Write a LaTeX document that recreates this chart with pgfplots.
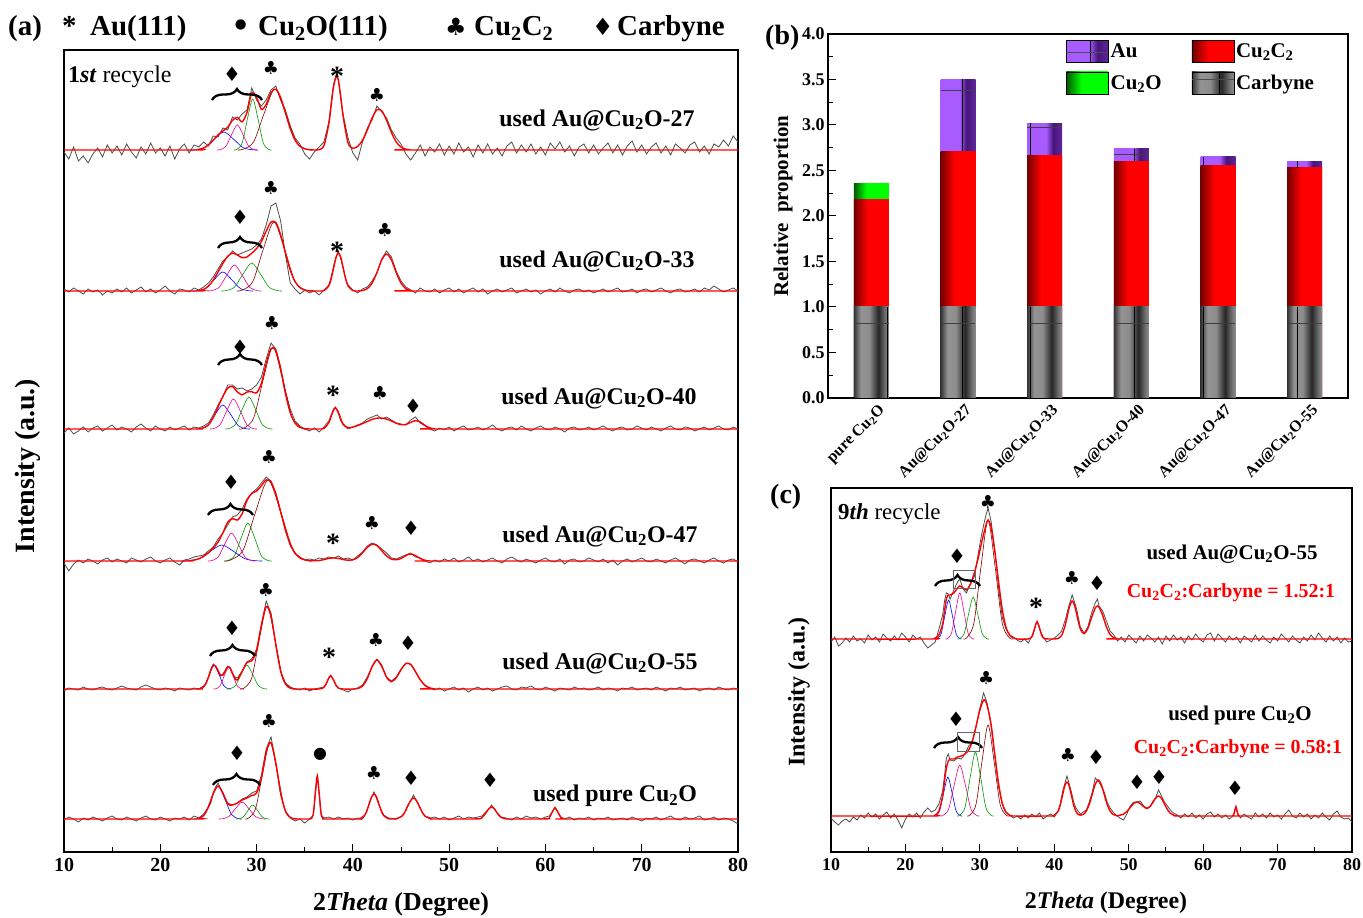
\documentclass[border=0pt]{standalone}
\usepackage{fontspec}
\setmainfont{Liberation Serif}
\newfontfamily\sym{DejaVu Sans}
\usepackage{pgfplots}
\pgfplotsset{compat=1.18}
\usetikzlibrary{decorations.pathreplacing}
\newcommand\fs[1]{\fontsize{#1}{#1}\selectfont}
\definecolor{auP}{rgb}{0.66,0.36,1.0}
\definecolor{auD}{rgb}{0.28,0.08,0.48}
\definecolor{dgray}{rgb}{0.3,0.3,0.3}
\pgfdeclarehorizontalshading{auS}{100bp}{color(0bp)=(auP); color(25bp)=(auP); color(52bp)=(auP); color(62bp)=(auD); color(75bp)=(auD!75!auP); color(100bp)=(auD!75!auP)}
\pgfdeclarehorizontalshading{ccS}{100bp}{color(0bp)=(red!45!black); color(25bp)=(red!45!black); color(45bp)=(red); color(100bp)=(red)}
\pgfdeclarehorizontalshading{coS}{100bp}{color(0bp)=(green!35!black); color(25bp)=(green!35!black); color(43bp)=(green); color(100bp)=(green)}
\pgfdeclarehorizontalshading{cbS}{100bp}{color(0bp)=(black!80); color(25bp)=(black!80); color(35bp)=(black!42); color(47bp)=(black!45); color(60bp)=(black!85); color(70bp)=(black!55); color(75bp)=(black!45); color(100bp)=(black!45)}
\pgfplotsset{
  xrd/.style={scale only axis, xmin=10, xmax=80, ymin=0,
    xtick={10,20,...,80}, minor xtick={15,25,...,75}, ytick=\empty,
    tick align=inside, xtick pos=left, major tick length=8bp, minor tick length=5bp,
    axis line style={line width=1.1bp}, every tick/.style={line width=1bp, black},
    /pgf/number format/assume math mode=true,
    xticklabel style={font=\fs{20}\bfseries, yshift=-3bp}},
  off/.style={y filter/.expression={y+#1}},
  gr/.style={draw=dgray, line width=0.8bp, sharp plot, no markers},
  fit/.style={red, line width=1.4bp, smooth, no markers},
  cB/.style={blue, line width=0.6bp, smooth, no markers},
  cM/.style={magenta, line width=0.6bp, smooth, no markers},
  cG/.style={green!60!black, line width=0.6bp, smooth, no markers},
  cR/.style={red!50!black, line width=0.6bp, smooth, no markers},
  bb/.style={ybar, bar width=35bp, bar shift=0pt, draw=none, shade, shading=#1, forget plot},
}
\tikzset{
  D/.style={font=\sym\fs{20}, inner sep=0},
  C/.style={font=\sym\fs{18}, inner sep=0},
  A/.style={font=\bfseries\fs{28}, inner sep=0},
  O/.style={font=\sym\fs{16}, inner sep=0},
  br/.style={decorate, decoration={brace, amplitude=11bp}, line width=2.3bp},
  lab/.style={font=\bfseries\fs{24}, inner sep=0},
  vl/.style={black, line width=0.8bp},
  hl/.style={black!75, line width=0.5bp},
}
\begin{document}
\begin{tikzpicture}[x=1bp,y=1bp]
% ---------------- panel (a)
\pgfresetboundingbox
\begin{scope}[shift={(64,65)}]
\begin{axis}[xrd, at={(0,0)}, anchor=south west, width=674bp, height=802bp, ymax=802]
% T27
\addplot[gr, off=702] coordinates {(10,-2)(10.5,-9)(11,3)(11.5,-11)(12,-6)(12.5,-13)(13,-4)(13.5,2)(14,-7)(14.5,5)(15,-3)(15.5,4)(16,-5)(16.5,6)(17,-2)(17.5,-8)(18,3)(18.5,-4)(19,7)(19.5,-3)(20,2)(20.5,-6)(21,4)(21.5,-9)(22,1)(22.5,6)(23,-3)(23.5,5)(24,3)(24.5,8)(25,4)(25.5,14)(26,13)(26.5,22)(27,20)(27.5,33)(28,30)(28.5,36)(29,40)(29.5,62)(30,50)(30.5,44)(31,50)(31.5,60)(32,64)(32.5,50)(33,40)(33.5,24)(34,12)(34.5,6)(35,-4)(35.5,-9)(36,-2)(36.5,3)(37,8)(37.5,28)(37.75,48)(38,66)(38.3,76)(38.5,70)(38.75,50)(39,35)(39.5,12)(40,-3)(40.5,-10)(41,8)(41.5,22)(42,30)(42.5,44)(43,38)(43.5,32)(44,20)(44.5,12)(45,6)(45.5,-4)(46,-10)(46.5,-3)(47,5)(47.5,-6)(48,3)(48.5,-2)(49,6)(49.5,-5)(50,4)(50.5,-4)(51,7)(51.5,-2)(52,3)(52.5,-7)(53,5)(53.5,-3)(54,6)(54.5,-4)(55,2)(55.5,-6)(56,4)(56.5,8)(57,-3)(57.5,5)(58,-2)(58.5,6)(59,-4)(59.5,3)(60,-5)(60.5,7)(61,1)(61.5,8)(62,-2)(62.5,4)(63,-6)(63.5,3)(64,6)(64.5,-3)(65,5)(65.5,-4)(66,2)(66.5,7)(67,-3)(67.5,5)(68,-5)(68.5,4)(69,9)(69.5,-2)(70,5)(70.5,-4)(71,3)(71.5,7)(72,-3)(72.5,4)(73,-5)(73.5,6)(74,2)(74.5,-3)(75,5)(75.5,8)(76,-2)(76.5,4)(77,-4)(77.5,6)(78,3)(78.5,10)(79,4)(79.5,14)(80,8)};
\addplot[cB, off=702] coordinates {(23.1,0)(23.6,0.2)(24.6,2.4)(25.6,10.9)(26.6,18)(27.6,10.9)(28.6,2.4)(29.6,0.2)(30.1,0)};
\addplot[cM, off=702] coordinates {(25.9,0)(26.2,0.3)(26.8,3.4)(27.4,15.2)(28.0,25)(28.6,15.2)(29.2,3.4)(29.8,0.3)(30.1,0)};
\addplot[cG, off=702] coordinates {(27.68,0)(27.95,0.6)(28.5,6.9)(29.05,31)(29.6,51)(30.15,31)(30.7,6.9)(31.25,0.6)(31.53,0)};
\addplot[cR, off=702] coordinates {(28.05,0)(28.6,0.7)(29.7,8.2)(30.8,37)(31.9,61)(33.0,37)(34.1,8.2)(35.2,0.7)(35.75,0)};
\addplot[fit, off=702] coordinates {(10,0)(23.5,0)(24,0.6)(24.5,2)(25,5)(25.5,9.8)(26,15.1)(26.5,19)(27,22.8)(27.5,29.7)(28,32.6)(28.5,28.1)(29,37.3)(29.5,57)(30,52.9)(30.5,40.5)(31,45.6)(31.5,57.3)(32,60.8)(32.5,52.4)(33,37)(33.5,21.3)(34,9.8)(34.5,3.7)(35,1.2)(35.5,0.3)(36,0)(36.5,0.3)(37,4.5)(37.5,25.8)(37.75,44.9)(38,63.6)(38.3,74)(38.5,69.3)(38.75,52.9)(39,33)(39.5,7.1)(40,1.7)(40.5,3.6)(41,9.7)(41.5,20)(42,32.1)(42.5,40.2)(43,39.2)(43.5,29.8)(44,17.6)(44.5,8.1)(45,2.9)(45.5,0.8)(46,0.2)(46.5,0)(80,0)};
% T33
\addplot[gr, off=561] coordinates {(10,2)(10.5,-1)(11,3)(11.5,0)(12,-3)(12.5,2)(13,-1)(13.5,1)(14,-4)(14.5,0)(15,-2)(15.5,2)(16,-1)(16.5,3)(17,-2)(17.5,1)(18,4)(18.5,-1)(19,2)(19.5,-2)(20,1)(20.5,5)(21,0)(21.5,-3)(22,2)(22.5,1)(23,-1)(23.5,3)(24,1)(24.5,4)(25,8)(25.5,14)(26,22)(26.5,30)(27,34)(27.5,40)(28,36)(28.5,38)(29,40)(29.5,42)(30,46)(30.5,52)(31,66)(31.5,85)(32,88)(32.5,70)(33,36)(33.5,8)(34,2)(34.5,-3)(35,1)(35.5,-2)(36,0)(36.5,-4)(37,1)(37.5,6)(37.75,14)(38,25)(38.25,34)(38.5,40)(38.75,32)(39,22)(39.25,12)(39.5,6)(40,1)(40.5,-2)(41,2)(41.5,4)(42,10)(42.5,18)(43,32)(43.5,40)(44,34)(44.5,20)(45,10)(45.5,4)(46,1)(46.5,-2)(47,3)(47.5,0)(48,-1)(48.5,2)(49,-2)(49.5,1)(50,3)(50.5,-1)(51,2)(51.5,-2)(52,1)(52.5,3)(53,-1)(53.5,2)(54,-3)(54.5,0)(55,2)(55.5,-1)(56,1)(56.5,3)(57,-2)(57.5,0)(58,2)(58.5,-1)(59,1)(59.5,-3)(60,0)(60.5,2)(61,-1)(61.5,3)(62,0)(62.5,-2)(63,1)(63.5,2)(64,-1)(64.5,1)(65,-2)(65.5,0)(66,2)(66.5,-1)(67,1)(67.5,3)(68,-1)(68.5,0)(69,2)(69.5,-2)(70,1)(70.5,2)(71,-1)(71.5,1)(72,3)(72.5,0)(73,-2)(73.5,1)(74,2)(74.5,-1)(75,0)(75.5,2)(76,-1)(76.5,3)(77,1)(77.5,5)(78,2)(78.5,-1)(79,1)(79.5,3)(80,0)};
\addplot[cB, off=561] coordinates {(23.35,0)(23.8,0.2)(24.7,2.6)(25.6,11.5)(26.5,19)(27.4,11.5)(28.3,2.6)(29.2,0.2)(29.65,0)};
\addplot[cM, off=561] coordinates {(24.9,0)(25.3,0.3)(26.1,3.5)(26.9,15.8)(27.7,26)(28.5,15.8)(29.3,3.5)(30.1,0.3)(30.5,0)};
\addplot[cG, off=561] coordinates {(26.35,0)(26.8,0.3)(27.7,3.8)(28.6,17)(29.5,28)(30.4,17)(31.3,3.8)(32.2,0.3)(32.65,0)};
\addplot[cR, off=561] coordinates {(27.95,0)(28.5,0.8)(29.6,9.3)(30.7,41.9)(31.8,69)(32.9,41.9)(34.0,9.3)(35.1,0.8)(35.65,0)};
\addplot[fit, off=561] coordinates {(10,0)(23.5,0)(24,0.4)(24.5,1.6)(25,4.8)(25.5,10.9)(26,19)(26.5,27.5)(27,34.6)(27.5,37.9)(28,36)(28.5,33.3)(29,34.1)(29.5,37.8)(30,42.4)(30.5,49.5)(31,59.8)(31.5,68.9)(32,68.5)(32.5,56.2)(33,38.1)(33.5,20.8)(34,9.3)(34.5,3.4)(35,1)(35.5,0.2)(36,0)(36.5,0)(37,0.4)(37.5,5.1)(37.75,12.3)(38,23)(38.25,33.5)(38.5,38)(38.75,33.5)(39,23)(39.25,12.3)(39.5,5.1)(40,0.4)(40.5,0)(41,0.5)(41.5,2.3)(42,7.9)(42.5,18.4)(43,31.1)(43.5,37)(44,31.1)(44.5,18.4)(45,7.9)(45.5,2.3)(46,0.5)(46.5,0)(80,0)};
% T40
\addplot[gr, off=423] coordinates {(10,-4)(10.5,1)(11,-5)(11.5,-2)(12,2)(12.5,-3)(13,1)(13.5,3)(14,-2)(14.5,1)(15,4)(15.5,-1)(16,2)(16.5,0)(17,-3)(17.5,2)(18,5)(18.5,1)(19,-2)(19.5,3)(20,0)(20.5,-2)(21,2)(21.5,-1)(22,1)(22.5,3)(23,-1)(23.5,2)(24,1)(24.5,3)(25,6)(25.5,14)(26,24)(26.5,32)(27,44)(27.5,44)(28,40)(28.5,41)(29,38)(29.5,40)(30,44)(30.5,52)(31,70)(31.5,86)(32,80)(32.5,62)(33,38)(33.5,20)(34,8)(34.5,3)(35,0)(35.5,-2)(36,1)(36.5,-3)(37,2)(37.5,8)(37.75,14)(38,20)(38.2,22)(38.5,15)(38.75,8)(39,4)(39.5,0)(40,2)(40.5,4)(41,6)(41.5,10)(42,12)(42.5,14)(43,10)(43.5,12)(44,9)(44.5,6)(45,5)(45.5,4)(46,9)(46.5,12)(47,6)(47.5,3)(48,0)(48.5,-2)(49,1)(49.5,-1)(50,2)(50.5,-2)(51,1)(51.5,3)(52,-1)(52.5,0)(53,2)(53.5,-1)(54,1)(54.5,4)(55,0)(55.5,-2)(56,1)(56.5,2)(57,-1)(57.5,3)(58,0)(58.5,-2)(59,1)(59.5,3)(60,0)(60.5,-1)(61,2)(61.5,0)(62,-3)(62.5,1)(63,2)(63.5,-1)(64,0)(64.5,2)(65,-1)(65.5,1)(66,3)(66.5,0)(67,-2)(67.5,1)(68,2)(68.5,-1)(69,0)(69.5,3)(70,1)(70.5,-1)(71,2)(71.5,0)(72,-2)(72.5,1)(73,3)(73.5,0)(74,-1)(74.5,2)(75,1)(75.5,-2)(76,0)(76.5,2)(77,-1)(77.5,1)(78,3)(78.5,0)(79,-1)(79.5,2)(80,0)};
\addplot[cB, off=423] coordinates {(23.7,0)(24.1,0.3)(24.9,3.2)(25.7,14.6)(26.5,24)(27.3,14.6)(28.1,3.2)(28.9,0.3)(29.3,0)};
\addplot[cM, off=423] coordinates {(25.15,0)(25.5,0.3)(26.2,4.1)(26.9,18.2)(27.6,30)(28.3,18.2)(29.0,4.1)(29.7,0.3)(30.05,0)};
\addplot[cG, off=423] coordinates {(26.75,0)(27.1,0.4)(27.8,4.3)(28.5,19.4)(29.2,32)(29.9,19.4)(30.6,4.3)(31.3,0.4)(31.65,0)};
\addplot[cR, off=423] coordinates {(28.2,0)(28.7,0.9)(29.7,11.1)(30.7,49.8)(31.7,82)(32.7,49.8)(33.7,11.1)(34.7,0.9)(35.2,0)};
\addplot[fit, off=423] coordinates {(10,0)(23.5,0)(24,0.2)(24.5,1.1)(25,4.1)(25.5,11.3)(26,22)(26.5,32.7)(27,40.8)(27.5,42.4)(28,37.1)(28.5,34.1)(29,36.9)(29.5,37.3)(30,36.1)(30.5,45.6)(31,65.4)(31.5,80.4)(32,78.4)(32.5,59.5)(33,35.3)(33.5,16.2)(34,5.8)(34.5,1.6)(35,0.4)(35.5,0)(36.5,0)(37,0.6)(37.5,6.2)(37.75,12.7)(38,19)(38.2,21)(38.5,16.8)(38.75,10)(39,4.8)(39.5,1.3)(40,1.9)(40.5,3.4)(41,5.4)(41.5,7.5)(42,9.6)(42.5,10.8)(43,10.9)(43.5,9.9)(44,8)(44.5,5.8)(45,4.3)(45.5,4.5)(46,6.6)(46.5,8.4)(47,7)(47.5,3.5)(48,1.1)(48.5,0.2)(49,0)(80,0)};
% T47
\addplot[gr, off=291] coordinates {(10,-2)(10.5,-10)(11,-3)(11.5,1)(12,-2)(12.5,2)(13,0)(13.5,-3)(14,1)(14.5,3)(15,-1)(15.5,2)(16,0)(16.5,-2)(17,3)(17.5,1)(18,-1)(18.5,2)(19,4)(19.5,0)(20,-2)(20.5,1)(21,3)(21.5,-1)(22,-4)(22.5,1)(23,2)(23.5,4)(24,5)(24.5,6)(25,10)(25.5,14)(26,22)(26.5,28)(27,36)(27.5,44)(28,46)(28.5,52)(29,62)(29.5,68)(30,72)(30.5,78)(31,84)(31.5,80)(32,68)(32.5,50)(33,30)(33.5,15)(34,7)(34.5,3)(35,1)(35.5,2)(36,1)(36.5,3)(37,2)(37.5,4)(38,3)(38.5,5)(39,2)(39.5,3)(40,1)(40.5,5)(41,9)(41.5,15)(42,18)(42.5,16)(43,12)(43.5,8)(44,3)(44.5,2)(45,4)(45.5,6)(46,8)(46.5,4)(47,3)(47.5,0)(48,-2)(48.5,1)(49,-1)(49.5,2)(50,0)(50.5,3)(51,-1)(51.5,1)(52,4)(52.5,0)(53,2)(53.5,-1)(54,1)(54.5,3)(55,0)(55.5,-2)(56,2)(56.5,4)(57,1)(57.5,-1)(58,2)(58.5,0)(59,-2)(59.5,1)(60,3)(60.5,0)(61,-1)(61.5,2)(62,-3)(62.5,1)(63,2)(63.5,-1)(64,0)(64.5,3)(65,1)(65.5,-1)(66,2)(66.5,-2)(67,1)(67.5,-4)(68,0)(68.5,2)(69,-1)(69.5,1)(70,3)(70.5,0)(71,-1)(71.5,2)(72,0)(72.5,-2)(73,1)(73.5,3)(74,0)(74.5,-3)(75,1)(75.5,2)(76,0)(76.5,-2)(77,1)(77.5,3)(78,0)(78.5,-2)(79,1)(79.5,2)(80,-1)};
\addplot[cB, off=291] coordinates {(22.2,0)(22.8,0.2)(24.0,2.2)(25.2,9.7)(26.4,16)(27.6,9.7)(28.8,2.2)(30.0,0.2)(30.6,0)};
\addplot[cM, off=291] coordinates {(24.95,0)(25.3,0.3)(26.0,3.8)(26.7,17)(27.4,28)(28.1,17)(28.8,3.8)(29.5,0.3)(29.85,0)};
\addplot[cG, off=291] coordinates {(26.65,0)(27.0,0.4)(27.7,5.1)(28.4,23.1)(29.1,38)(29.8,23.1)(30.5,5.1)(31.2,0.4)(31.55,0)};
\addplot[cR, off=291] coordinates {(26.65,0)(27.3,0.9)(28.6,10.9)(29.9,49.2)(31.2,81)(32.5,49.2)(33.8,10.9)(35.1,0.9)(35.75,0)};
\addplot[fit, off=291] coordinates {(10,0)(22.5,0)(23,0.3)(23.5,0.9)(24,2.2)(24.5,4.6)(25,8.2)(25.5,12.8)(26,18.9)(26.5,28.1)(27,38.7)(27.5,42.4)(28,40.9)(28.5,47.2)(29,60.5)(29.5,67.5)(30,69.9)(30.5,75.2)(31,81.1)(31.5,78.9)(32,66.9)(32.5,49.1)(33,31.3)(33.5,16.9)(34,8)(34.5,3.2)(35,1.1)(35.5,0.3)(36,0.2)(36.5,0.5)(37,1.4)(37.5,2.6)(38,3)(38.5,2.6)(39,1.4)(39.5,0.8)(40,1.2)(40.5,3.5)(41,8.1)(41.5,13.6)(42,16.9)(42.5,15.4)(43,10.3)(43.5,5)(44,1.9)(44.5,1.2)(45,2.5)(45.5,5.4)(46,7)(46.5,5.4)(47,2.5)(47.5,0.7)(48,0.1)(48.5,0)(80,0)};
% T55
\addplot[gr, off=163] coordinates {(10,-2)(10.5,1)(11,0)(11.5,-1)(12,2)(12.5,0)(13,-1)(13.5,1)(14,2)(14.5,0)(15,-1)(15.5,1)(16,3)(16.5,1)(17,0)(17.5,-1)(18,2)(18.5,4)(19,2)(19.5,0)(20,-1)(20.5,1)(21,0)(21.5,-2)(22,1)(22.5,0)(23,-1)(23.5,1)(24,0)(24.5,3)(24.75,6)(25,12)(25.25,20)(25.5,25)(25.75,22)(26,17)(26.25,13)(26.5,15)(26.75,19)(27,23)(27.25,21)(27.5,15)(27.75,12)(28,11)(28.5,18)(29,27)(29.5,30)(30,40)(30.5,64)(31,88)(31.5,76)(32,44)(32.5,18)(33,6)(33.5,2)(34,0)(34.5,-1)(35,1)(35.5,-2)(36,0)(36.5,1)(37,2)(37.25,5)(37.5,11)(37.7,14)(38,9)(38.25,3)(38.5,1)(39,-1)(39.5,-3)(40,0)(40.5,1)(41,4)(41.5,12)(42,22)(42.5,30)(43,24)(43.5,12)(44,8)(44.5,12)(45,20)(45.5,26)(46,25)(46.5,17)(47,9)(47.5,4)(48,1)(48.5,-1)(49,1)(49.5,-2)(50,0)(50.5,2)(51,-1)(51.5,1)(52,-3)(52.5,0)(53,2)(53.5,-1)(54,1)(54.5,-2)(55,0)(55.5,2)(56,3)(56.5,0)(57,-1)(57.5,2)(58,1)(58.5,3)(59,0)(59.5,-1)(60,2)(60.5,0)(61,-2)(61.5,1)(62,0)(62.5,-1)(63,2)(63.5,0)(64,1)(64.5,-1)(65,0)(65.5,2)(66,-1)(66.5,1)(67,0)(67.5,-2)(68,1)(68.5,0)(69,2)(69.5,-1)(70,0)(70.5,1)(71,-1)(71.5,2)(72,0)(72.5,-2)(73,1)(73.5,0)(74,2)(74.5,-1)(75,0)(75.5,1)(76,-2)(76.5,0)(77,1)(77.5,-1)(78,2)(78.5,0)(79,-1)(79.5,1)(80,0)};
\addplot[cB, off=163] coordinates {(23.85,0)(24.1,0.3)(24.6,3.2)(25.1,14.6)(25.6,24)(26.1,14.6)(26.6,3.2)(27.1,0.3)(27.35,0)};
\addplot[cM, off=163] coordinates {(25.525,0)(25.75,0.2)(26.2,3)(26.65,13.4)(27.1,22)(27.55,13.4)(28.0,3)(28.45,0.2)(28.675,0)};
\addplot[cG, off=163] coordinates {(26.9,0)(27.2,0.3)(27.8,3.2)(28.4,14.6)(29.0,24)(29.6,14.6)(30.2,3.2)(30.8,0.3)(31.1,0)};
\addplot[cR, off=163] coordinates {(28.3,0)(28.7,0.9)(29.5,11.2)(30.3,50.4)(31.1,83)(31.9,50.4)(32.7,11.2)(33.5,0.9)(33.9,0)};
\addplot[fit, off=163] coordinates {(10,0)(23.5,0)(24,0.1)(24.5,2.1)(24.75,5.7)(25,11.7)(25.25,18.8)(25.5,23.5)(25.75,22.9)(26,18.5)(26.25,14)(26.5,13.9)(26.75,17.9)(27,22.1)(27.25,21.1)(27.5,15.9)(27.75,10.6)(28,9)(28.5,17.6)(29,26.6)(29.5,28.2)(30,38.3)(30.5,63.8)(31,82.4)(31.5,73.2)(32,44.1)(32.5,17.9)(33,4.9)(33.5,0.9)(34,0.1)(34.5,0)(36.5,0)(37,1.8)(37.25,5.7)(37.5,11)(37.7,13)(38,9)(38.25,3.8)(38.5,0.9)(39,0)(40,0)(40.5,0.5)(41,2.9)(41.5,10.4)(42,22.5)(42.5,29)(43,22.5)(43.5,11.7)(44,7.3)(44.5,11.2)(45,19.2)(45.5,25.4)(46,24.6)(46.5,17.5)(47,9.2)(47.5,3.5)(48,1)(48.5,0.2)(49,0)(80,0)};
% Tpure
\addplot[gr, off=33] coordinates {(10,-1)(10.5,2)(11,0)(11.5,-3)(12,1)(12.5,-1)(13,2)(13.5,0)(14,-2)(14.5,1)(15,3)(15.5,0)(16,-1)(16.5,2)(17,0)(17.5,-2)(18,1)(18.5,3)(19,0)(19.5,-1)(20,2)(20.5,0)(21,-2)(21.5,1)(22,0)(22.5,2)(23,-1)(23.5,3)(24,1)(24.5,5)(25,12)(25.25,16)(25.5,26)(25.75,32)(26,36)(26.5,26)(27,16)(27.5,14)(28,16)(28.5,20)(29,22)(29.5,26)(30,28)(30.5,44)(31,70)(31.5,82)(32,56)(32.5,24)(33,8)(33.5,1)(34,-2)(34.5,0)(35,-4)(35.5,0)(35.9,4)(36.1,24)(36.3,42)(36.5,24)(36.7,4)(37,1)(37.5,2)(38,0)(38.5,2)(39,0)(39.5,1)(40,-1)(40.5,1)(41,0)(41.2,3)(41.45,8)(41.7,16)(41.95,22)(42.2,27)(42.45,21)(42.7,14)(42.95,9)(43.2,4)(43.7,1)(44.5,0)(45.1,3)(45.4,7)(45.7,14)(46,18)(46.3,24)(46.6,18)(46.9,13)(47.2,7)(47.5,3)(48.1,1)(48.5,2)(49,0)(49.5,2)(50,-1)(50.5,1)(51,3)(51.5,0)(52,2)(52.5,1)(53,2)(53.4,3)(53.9,8)(54.15,10)(54.4,14)(54.65,11)(54.9,7)(55.4,2)(55.9,1)(56.5,-1)(57,2)(57.5,0)(58,3)(58.5,1)(59,2)(59.5,0)(60,2)(60.4,3)(60.7,7)(61,12)(61.3,7)(61.6,2)(62,0)(62.5,2)(63,-1)(63.5,1)(64,0)(64.5,2)(65,-1)(65.5,1)(66,0)(66.5,2)(67,-1)(67.5,0)(68,1)(68.5,-1)(69,2)(69.5,0)(70,-2)(70.5,1)(71,0)(71.5,2)(72,-1)(72.5,1)(73,3)(73.5,0)(74,-1)(74.5,2)(75,0)(75.5,1)(76,3)(76.5,-1)(77,0)(77.5,2)(78,-1)(78.5,1)(79,0)(79.5,-2)(80,-5)};
\addplot[cB, off=33] coordinates {(23.55,0)(23.9,0.4)(24.6,4.5)(25.3,20)(26.0,33)(26.7,20)(27.4,4.5)(28.1,0.4)(28.45,0)};
\addplot[cM, off=33] coordinates {(26.05,0)(26.4,0.2)(27.1,2.3)(27.8,10.3)(28.5,17)(29.2,10.3)(29.9,2.3)(30.6,0.2)(30.95,0)};
\addplot[cG, off=33] coordinates {(27.85,0)(28.1,0.2)(28.6,1.9)(29.1,8.5)(29.6,14)(30.1,8.5)(30.6,1.9)(31.1,0.2)(31.35,0)};
\addplot[cR, off=33] coordinates {(28.775,0)(29.15,0.8)(29.9,10.4)(30.65,46.7)(31.4,77)(32.15,46.7)(32.9,10.4)(33.65,0.8)(34.025,0)};
\addplot[fit, off=33] coordinates {(10,0)(23.5,0)(24,0.6)(24.5,3.3)(25,11.9)(25.5,25.6)(26,33)(26.5,26)(27,15)(27.5,14)(28,16)(28.5,19)(29,21)(29.5,23.5)(30,26)(30.5,40.6)(31,67.2)(31.5,76.3)(32,55.9)(32.5,26.2)(33,7.9)(33.5,1.5)(34,0.2)(34.5,0)(35.5,0)(35.7,0.5)(35.9,5.8)(36.1,26.1)(36.3,43)(36.5,26.1)(36.7,5.8)(36.9,0.5)(37.2,0)(40.5,0)(40.7,0.3)(41.2,3.4)(41.45,8.1)(41.7,15.2)(41.95,22.1)(42.2,25)(42.45,22.1)(42.7,15.2)(42.95,8.1)(43.2,3.4)(43.7,0.3)(44.2,0)(44.5,0.2)(45.1,2.8)(45.4,6.8)(45.7,12.7)(46,18.5)(46.3,21)(46.6,18.5)(46.9,12.7)(47.2,6.8)(47.5,2.8)(48.1,0.2)(48.5,0)(52.9,0.1)(53.4,1.6)(53.65,3.9)(53.9,7.3)(54.15,10.6)(54.4,12)(54.65,10.6)(54.9,7.3)(55.15,3.9)(55.4,1.6)(55.9,0.1)(56.3,0)(60.1,0.1)(60.4,1.5)(60.7,6.7)(61,11)(61.3,6.7)(61.6,1.5)(61.9,0.1)(62.2,0)(80,0)};
% annotations (a)
\node[anchor=base west, font=\fs{24}, inner sep=0] at (axis cs:10.4,769) {\textbf{1\textit{st}} recycle};
\node[lab] at (axis cs:65.35,732) {used Au@Cu\textsubscript{2}O-27};
\node[lab] at (axis cs:65.35,591) {used Au@Cu\textsubscript{2}O-33};
\node[lab] at (axis cs:65.56,454) {used Au@Cu\textsubscript{2}O-40};
\node[lab] at (axis cs:65.66,316) {used Au@Cu\textsubscript{2}O-47};
\node[lab] at (axis cs:65.66,189) {used Au@Cu\textsubscript{2}O-55};
\node[lab] at (axis cs:67.22,56) {used pure Cu\textsubscript{2}O};
\node[D] at (axis cs:27.45,778) {♦};
\draw[br] (axis cs:25.37,752) -- (axis cs:30.56,752);
\node[C] at (axis cs:31.5,784) {♣};
\node[A] at (axis cs:38.35,776) {*};
\node[C] at (axis cs:42.5,757) {♣};
\node[D] at (axis cs:28.28,635) {♦};
\draw[br] (axis cs:26.0,604) -- (axis cs:30.56,604);
\node[C] at (axis cs:31.5,664) {♣};
\node[A] at (axis cs:38.35,601) {*};
\node[C] at (axis cs:43.34,622) {♣};
\node[D] at (axis cs:28.28,505) {♦};
\draw[br] (axis cs:26.0,487) -- (axis cs:30.56,487);
\node[C] at (axis cs:31.6,529) {♣};
\node[A] at (axis cs:37.94,457) {*};
\node[C] at (axis cs:42.82,459) {♣};
\node[D] at (axis cs:46.24,446) {♦};
\node[D] at (axis cs:27.34,370) {♦};
\draw[br] (axis cs:24.95,337) -- (axis cs:29.63,337);
\node[C] at (axis cs:31.29,395) {♣};
\node[A] at (axis cs:37.94,309) {*};
\node[C] at (axis cs:41.99,329) {♣};
\node[D] at (axis cs:46.04,324) {♦};
\node[D] at (axis cs:27.45,224) {♦};
\draw[br] (axis cs:25.16,196) -- (axis cs:29.84,196);
\node[C] at (axis cs:30.98,262) {♣};
\node[A] at (axis cs:37.52,195) {*};
\node[C] at (axis cs:42.40,212) {♣};
\node[D] at (axis cs:45.73,209) {♦};
\node[D] at (axis cs:27.97,99) {♦};
\draw[br] (axis cs:25.47,67) -- (axis cs:30.35,67);
\node[C] at (axis cs:31.29,131) {♣};
\node[O] at (axis cs:36.59,98) {●};
\node[C] at (axis cs:42.19,79) {♣};
\node[D] at (axis cs:46.04,74) {♦};
\node[D] at (axis cs:54.24,72) {♦};
\end{axis}
\end{scope}
% ---------------- panel (b)
\pgfresetboundingbox
\begin{scope}[shift={(828,519)}]
\begin{axis}[at={(0,0)}, anchor=south west, scale only axis, width=520bp, height=364bp,
  xmin=-0.5, xmax=5.5, ymin=0, ymax=4,
  xtick={0,1,2,3,4,5},
  xticklabels={pure Cu\textsubscript{2}O, Au@Cu\textsubscript{2}O-27, Au@Cu\textsubscript{2}O-33, Au@Cu\textsubscript{2}O-40, Au@Cu\textsubscript{2}O-47, Au@Cu\textsubscript{2}O-55},
  x tick label style={rotate=45, anchor=north east, font=\fs{16}\bfseries, inner sep=1bp, yshift=-7bp, xshift=2bp},
  x tick style={draw=none},
  ytick={0,0.5,...,4}, minor y tick num=1, ytick pos=left, tick align=inside,
  major tick length=8bp, minor tick length=5bp,
  axis line style={line width=1.1bp}, every tick/.style={line width=1bp, black},
  /pgf/number format/assume math mode=true,
  /pgf/number format/fixed, /pgf/number format/fixed zerofill, /pgf/number format/precision=1,
  yticklabel style={font=\fs{18}\bfseries},
  legend style={at={(0.452,0.99)}, anchor=north west, draw=none, fill=none, font=\fs{21}\bfseries, row sep=9bp},
  legend columns=2, legend cell align=left,
  /tikz/every even column/.append style={column sep=28bp}]
\addplot[bb=auS] coordinates {(1,3.50)};
\addplot[bb=auS] coordinates {(2,3.02)};
\addplot[bb=auS] coordinates {(3,2.74)};
\addplot[bb=auS] coordinates {(4,2.65)};
\addplot[bb=auS] coordinates {(5,2.60)};
\addplot[bb=coS] coordinates {(0,2.36)};
\addplot[bb=ccS] coordinates {(0,2.18)};
\addplot[bb=ccS] coordinates {(1,2.71)};
\addplot[bb=ccS] coordinates {(2,2.67)};
\addplot[bb=ccS] coordinates {(3,2.60)};
\addplot[bb=ccS] coordinates {(4,2.56)};
\addplot[bb=ccS] coordinates {(5,2.53)};
\addplot[bb=cbS] coordinates {(0,1)};
\addplot[bb=cbS] coordinates {(1,1)};
\addplot[bb=cbS] coordinates {(2,1)};
\addplot[bb=cbS] coordinates {(3,1)};
\addplot[bb=cbS] coordinates {(4,1)};
\addplot[bb=cbS] coordinates {(5,1)};
% thin marker lines inside bars
\draw[vl] (axis cs:0.188,0) -- (axis cs:0.188,1);
\draw[vl] (axis cs:1.046,0) -- (axis cs:1.046,1);
\draw[vl] (axis cs:1.83,0) -- (axis cs:1.83,1);
\draw[vl] (axis cs:3.03,0) -- (axis cs:3.03,1);
\draw[vl] (axis cs:3.83,0) -- (axis cs:3.83,1);
\draw[vl] (axis cs:4.92,0) -- (axis cs:4.92,1);
\draw[hl] (axis cs:-0.2,0.82) -- (axis cs:0.2,0.82);
\draw[hl] (axis cs:0.8,0.82) -- (axis cs:1.2,0.82);
\draw[hl] (axis cs:1.8,0.82) -- (axis cs:2.2,0.82);
\draw[hl] (axis cs:2.8,0.82) -- (axis cs:3.2,0.82);
\draw[hl] (axis cs:3.8,0.82) -- (axis cs:4.2,0.82);
\draw[hl] (axis cs:4.8,0.82) -- (axis cs:5.2,0.82);
\draw[vl] (axis cs:1.046,2.71) -- (axis cs:1.046,3.50);
\draw[vl] (axis cs:1.83,2.67) -- (axis cs:1.83,3.02);
\draw[vl] (axis cs:3.03,2.60) -- (axis cs:3.03,2.74);
\draw[vl] (axis cs:3.83,2.56) -- (axis cs:3.83,2.65);
\draw[vl] (axis cs:4.92,2.53) -- (axis cs:4.92,2.60);
\draw[hl] (axis cs:0.8,3.38) -- (axis cs:1.2,3.38);
\draw[hl] (axis cs:1.8,2.97) -- (axis cs:2.2,2.97);
\draw[hl] (axis cs:2.8,2.68) -- (axis cs:3.2,2.68);
\addlegendimage{legend image code/.code={\shade[shading=auS] (0bp,-11bp) rectangle (42bp,11bp); \draw[black, line width=0.7bp] (24bp,-11bp) -- (24bp,11bp); \draw[black!70, line width=0.5bp] (0bp,-1bp) -- (42bp,-1bp);}}
\addlegendentry{Au}
\addlegendimage{legend image code/.code={\shade[shading=ccS] (0bp,-11bp) rectangle (42bp,11bp);}}
\addlegendentry{Cu\textsubscript{2}C\textsubscript{2}}
\addlegendimage{legend image code/.code={\shade[shading=coS] (0bp,-11bp) rectangle (42bp,11bp);}}
\addlegendentry{Cu\textsubscript{2}O}
\addlegendimage{legend image code/.code={\shade[shading=cbS] (0bp,-11bp) rectangle (42bp,11bp); \draw[black, line width=0.7bp] (28bp,-11bp) -- (28bp,11bp); \draw[black!70, line width=0.5bp] (0bp,4bp) -- (42bp,4bp);}}
\addlegendentry{Carbyne}
\end{axis}
\end{scope}
% ---------------- panel (c)
\pgfresetboundingbox
\begin{scope}[shift={(831,65)}]
\begin{axis}[xrd, at={(0,0)}, anchor=south west, width=521bp, height=364bp, ymax=364, xticklabel style={font=\fs{18}\bfseries}]
\addplot[gr, off=213] coordinates {(10,-3)(10.5,2)(11,-7)(11.5,-4)(12,1)(12.5,-3)(13,3)(13.5,-2)(14,0)(14.5,-4)(15,4)(15.5,-1)(16,2)(16.5,-3)(17,5)(17.5,1)(18,-2)(18.5,3)(19,-1)(19.5,6)(20,2)(20.5,-3)(21,4)(21.5,0)(22,2)(22.5,-4)(23,-9)(23.5,-6)(24,-3)(24.5,10)(25,24)(25.25,38)(25.5,46)(25.75,45)(26,40)(26.5,49)(27,57)(27.3,60)(27.75,50)(28.2,46)(28.75,56)(29.25,62)(29.75,84)(30.25,105)(30.75,122)(31.1,131)(31.5,118)(32,90)(32.5,52)(33,22)(33.5,10)(34,4)(34.5,2)(35,-1)(35.5,-3)(36,0)(36.5,-4)(37,3)(37.5,14)(37.7,18)(38,10)(38.5,2)(39,-3)(39.5,-1)(40,1)(40.5,4)(41,8)(41.5,20)(42,34)(42.4,44)(42.75,36)(43,30)(43.5,12)(44,6)(44.5,12)(45,26)(45.5,36)(45.8,40)(46,33)(46.5,28)(47,18)(47.5,8)(48,4)(48.5,-2)(49,2)(49.5,-3)(50,4)(50.5,0)(51,-4)(51.5,3)(52,-2)(52.5,4)(53,1)(53.5,-3)(54,2)(54.5,-5)(55,3)(55.5,-2)(56,4)(56.5,-1)(57,2)(57.5,-4)(58,3)(58.5,-1)(59,5)(59.5,0)(60,-3)(60.5,4)(61,6)(61.5,-2)(62,5)(62.5,1)(63,-3)(63.5,3)(64,-1)(64.5,2)(65,-4)(65.5,3)(66,0)(66.5,-3)(67,4)(67.5,-2)(68,3)(68.5,-1)(69,-4)(69.5,2)(70,-2)(70.5,5)(71,1)(71.5,-3)(72,3)(72.5,-1)(73,-4)(73.5,2)(74,-2)(74.5,4)(75,-1)(75.5,6)(76,1)(76.5,-3)(77,3)(77.5,-2)(78,2)(78.5,-4)(79,1)(79.5,-3)(80,-2)};
\addplot[cB, off=213] coordinates {(24.05,0)(24.3,0.4)(24.8,5.3)(25.3,23.7)(25.8,39)(26.3,23.7)(26.8,5.3)(27.3,0.4)(27.55,0)};
\addplot[cM, off=213] coordinates {(25.375,0)(25.65,0.5)(26.2,6.2)(26.75,27.9)(27.3,46)(27.85,27.9)(28.4,6.2)(28.95,0.5)(29.225,0)};
\addplot[cG, off=213] coordinates {(27.0,0)(27.3,0.5)(27.9,5.7)(28.5,25.5)(29.1,42)(29.7,25.5)(30.3,5.7)(30.9,0.5)(31.2,0)};
\addplot[cR, off=213] coordinates {(27.775,0)(28.25,1.3)(29.2,16.1)(30.15,72.2)(31.1,119)(32.05,72.2)(33.0,16.1)(33.95,1.3)(34.425,0)};
\addplot[fit, off=213] coordinates {(10,0)(23.5,0)(24,1)(24.5,4)(25,15)(25.25,28)(25.5,40)(25.75,44)(26,44)(26.5,46)(27,51)(27.3,53)(27.75,51)(28.2,49)(28.75,55)(29.25,66)(29.75,80)(30.25,97)(30.75,112)(31.1,119)(31.5,112)(32,88)(32.5,58)(33,30)(33.5,12)(34,4)(34.5,1)(35,0)(36.5,0)(37,2.3)(37.25,7.4)(37.5,14.4)(37.7,17)(38,11.7)(38.25,4.9)(38.5,1.2)(38.75,0.2)(39.5,0)(40,0)(40.5,0.5)(41,3.8)(41.5,14.7)(42,31.4)(42.4,38)(42.75,32.9)(43,24.9)(43.5,9.9)(44,5.3)(44.5,10.4)(45,21.2)(45.5,31)(45.8,33)(46,32.1)(46.5,23.6)(47,12.2)(47.5,4.5)(48,1.2)(48.5,0.2)(49,0)(80,0)};
\addplot[gr, off=36] coordinates {(10,-2)(10.5,-6)(11,-9)(11.5,-5)(12,-3)(12.5,-6)(13,-1)(13.5,-4)(14,1)(14.5,-2)(15,3)(15.5,-1)(16,2)(16.5,-3)(17,1)(17.5,4)(18,-2)(18.5,2)(19,-4)(19.5,-12)(20,-3)(20.5,2)(21,-1)(21.5,3)(22,-2)(22.5,4)(23,8)(23.5,4)(24,6)(24.5,12)(25,25)(25.25,40)(25.5,58)(25.75,62)(26,56)(26.5,55)(27,58)(27.5,57)(28,62)(28.5,70)(29,74)(29.5,90)(30,108)(30.5,123)(30.75,118)(31,112)(31.5,90)(32,60)(32.5,30)(33,12)(33.5,4)(34,1)(34.5,-2)(35,0)(35.5,-3)(36,1)(36.5,-2)(37,2)(37.5,-1)(38,3)(38.5,-3)(39,0)(39.5,2)(40,-1)(40.5,5)(40.8,12)(41.1,24)(41.4,32)(41.7,40)(42,32)(42.3,24)(42.6,14)(42.9,8)(43.5,2)(43.9,4)(44.3,6)(44.7,14)(45.1,24)(45.5,38)(45.9,35)(46.3,30)(46.7,24)(47.1,14)(47.5,8)(47.9,4)(48.3,1)(48.8,-2)(49.3,-4)(49.75,2)(50.2,10)(50.65,14)(51.1,14)(51.55,15)(52,10)(52.45,8)(52.9,10)(53.2,14)(53.6,18)(54,26)(54.4,20)(54.8,14)(55.2,10)(55.6,6)(56,3)(56.5,1)(57,-2)(57.5,2)(58,-1)(58.5,3)(59,-2)(59.5,1)(60,-3)(60.5,2)(61,4)(61.5,-1)(62,2)(62.5,-2)(63,1)(63.5,-3)(64,0)(64.25,5)(64.4,10)(64.55,4)(65,-2)(65.5,2)(66,-1)(66.5,-3)(67,3)(67.5,-1)(68,2)(68.5,-2)(69,3)(69.5,-1)(70,1)(70.5,-3)(71,2)(71.5,6)(72,0)(72.5,-2)(73,3)(73.5,-1)(74,2)(74.5,-3)(75,1)(75.5,-2)(76,3)(76.5,-1)(77,-4)(77.5,2)(78,5)(78.5,-1)(79,-3)(79.5,-2)(80,-6)};
\addplot[cB, off=36] coordinates {(23.775,0)(24.05,0.4)(24.6,5.3)(25.15,23.7)(25.7,39)(26.25,23.7)(26.8,5.3)(27.35,0.4)(27.625,0)};
\addplot[cM, off=36] coordinates {(24.675,0)(25.05,0.6)(25.8,6.9)(26.55,31)(27.3,51)(28.05,31)(28.8,6.9)(29.55,0.6)(29.925,0)};
\addplot[cG, off=36] coordinates {(26.95,0)(27.3,0.7)(28.0,8.6)(28.7,38.8)(29.4,64)(30.1,38.8)(30.8,8.6)(31.5,0.7)(31.85,0)};
\addplot[cR, off=36] coordinates {(28.3,0)(28.7,1)(29.5,12.3)(30.3,55.2)(31.1,91)(31.9,55.2)(32.7,12.3)(33.5,1)(33.9,0)};
\addplot[fit, off=36] coordinates {(10,0)(23.5,0)(24,1)(24.5,5)(25,20)(25.25,35)(25.5,48)(25.75,55)(26,57)(26.5,57)(27,59)(27.5,60)(28,62)(28.5,66)(29,75)(29.5,90)(30,106)(30.5,116)(30.75,115)(31,110)(31.5,92)(32,62)(32.5,33)(33,13)(33.5,4)(34,1)(34.5,0)(39.4,0)(39.9,0.4)(40.5,4.6)(40.8,11)(41.1,20.6)(41.4,29.9)(41.7,34)(42,29.9)(42.3,20.6)(42.6,11)(42.9,4.6)(43.2,1.7)(43.5,0.8)(43.9,1.6)(44.3,4.9)(44.7,11.7)(45.1,21.8)(45.5,31.8)(45.9,36)(46.3,31.8)(46.7,21.8)(47.1,11.7)(47.5,4.9)(47.9,1.6)(48.4,0.2)(49.3,1.9)(49.75,4.5)(50.2,8.5)(50.65,12.4)(51.1,14)(51.55,12.4)(52,9.4)(52.45,7.5)(52.9,9.7)(53.2,13)(53.6,17.7)(54,20)(54.4,17.7)(54.8,12.1)(55.2,6.5)(55.6,2.7)(56,0.9)(56.4,0.2)(57,0)(63.8,0)(63.95,0.1)(64.1,1.2)(64.25,5.5)(64.4,9)(64.55,5.5)(64.7,1.2)(64.85,0.1)(65,0)(80,0)};
\node[anchor=base west, font=\fs{23}, inner sep=0] at (axis cs:10.94,332) {\textbf{9\textit{th}} recycle};
\node[font=\bfseries\fs{21}, inner sep=0] at (axis cs:63.88,298) {used Au@Cu\textsubscript{2}O-55};
\node[font=\bfseries\fs{20}, text=red, inner sep=0] at (axis cs:63.74,259) {Cu\textsubscript{2}C\textsubscript{2}:Carbyne = 1.52:1};
\node[font=\bfseries\fs{21}, inner sep=0] at (axis cs:64.95,137) {used pure Cu\textsubscript{2}O};
\node[font=\bfseries\fs{20}, text=red, inner sep=0] at (axis cs:64.68,103) {Cu\textsubscript{2}C\textsubscript{2}:Carbyne = 0.58:1};
\node[D] at (axis cs:26.93,296) {♦};
\draw[br] (axis cs:23.97,266) -- (axis cs:30.02,266);
\draw[line width=0.6bp, black!60] (axis cs:26.39,264) rectangle (axis cs:29.35,282);
\node[C] at (axis cs:31.09,350) {♣};
\node[A] at (axis cs:37.54,245) {*};
\node[C] at (axis cs:42.38,274) {♣};
\node[D] at (axis cs:45.74,269) {♦};
\node[D] at (axis cs:26.79,133) {♦};
\draw[br] (axis cs:23.84,104) -- (axis cs:30.29,104);
\draw[line width=0.6bp, black!60] (axis cs:26.93,101) rectangle (axis cs:29.88,120);
\node[C] at (axis cs:30.83,174) {♣};
\node[C] at (axis cs:41.84,97) {♣};
\node[D] at (axis cs:45.6,95) {♦};
\node[D] at (axis cs:51.11,70) {♦};
\node[D] at (axis cs:54.07,75) {♦};
\node[D] at (axis cs:64.28,64) {♦};
\end{axis}
\end{scope}
% ---------------- free text
\node[anchor=base west, font=\bfseries\fs{29}, inner sep=0] at (8,881) {(a)};
\node[anchor=base west, font=\bfseries\fs{29}, inner sep=0] at (62,881) {*};
\node[anchor=base west, font=\bfseries\fs{29}, inner sep=0] at (90,881) {Au(111)};
\node[anchor=base west, font=\bfseries\fs{38}, inner sep=0] at (234,879) {•};
\node[anchor=base west, font=\bfseries\fs{29}, inner sep=0] at (258,881) {Cu\textsubscript{2}O(111)};
\node[anchor=base west, font=\sym\fs{24}, inner sep=0] at (445,881) {♣};
\node[anchor=base west, font=\bfseries\fs{29}, inner sep=0] at (474,881) {Cu\textsubscript{2}C\textsubscript{2}};
\node[anchor=base west, font=\sym\fs{24}, inner sep=0] at (592,881) {♦};
\node[anchor=base west, font=\bfseries\fs{29}, inner sep=0] at (617,881) {Carbyne};
\node[anchor=base west, font=\bfseries\fs{28}, inner sep=0] at (765,872) {(b)};
\node[anchor=base west, font=\bfseries\fs{28}, inner sep=0] at (770,413) {(c)};
\node[rotate=90, font=\bfseries\fs{28}, inner sep=0] at (28,451) {Intensity (a.u.)};
\node[anchor=base, font=\bfseries\fs{26}, inner sep=0] at (401,7) {2\textit{Theta} (Degree)};
\node[rotate=90, font=\bfseries\fs{21}, inner sep=0] at (783,711) {Relative\ \ proportion};
\node[rotate=90, font=\bfseries\fs{24}, inner sep=0] at (799,225) {Intensity (a.u.)};
\node[anchor=base, font=\bfseries\fs{24}, inner sep=0] at (1106,9) {2\textit{Theta} (Degree)};
\pgfresetboundingbox
\useasboundingbox (0,0) rectangle (1363,917);
\end{tikzpicture}
\end{document}
